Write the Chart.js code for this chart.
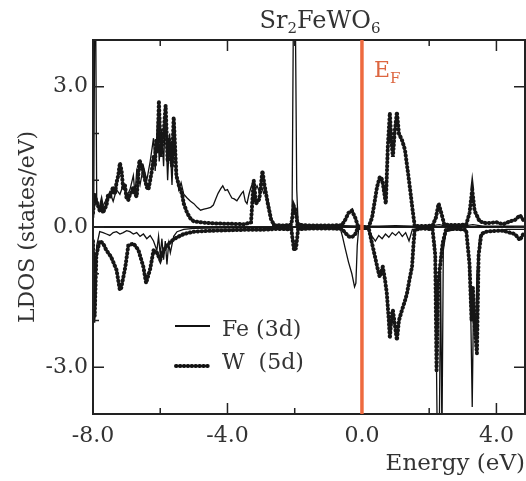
<!DOCTYPE html>
<html>
<head>
<meta charset="utf-8">
<script src="https://cdn.jsdelivr.net/npm/chart.js@4"></script>
<style>
  html, body { margin: 0; padding: 0; background: #fff; }
  canvas { display: block; }
</style>
</head>
<body>
<canvas id="dos" width="526" height="481"></canvas>
<script>
// Sr2FeWO6 partial DOS, spin up > 0, spin down < 0
const feUpE = [-7.98,-7.95,-7.92,-7.89,-7.8,-7.7,-7.6,-7.5,-7.4,-7.3,-7.2,-7.1,-7.0,-6.9,-6.8,-6.75,-6.7,-6.6,-6.5,-6.4,-6.3,-6.2,-6.15,-6.08,-6.03,-5.96,-5.9,-5.85,-5.78,-5.72,-5.65,-5.58,-5.52,-5.45,-5.38,-5.3,-5.2,-5.1,-5.0,-4.9,-4.8,-4.7,-4.6,-4.5,-4.42,-4.35,-4.28,-4.2,-4.14,-4.07,-4.0,-3.93,-3.87,-3.8,-3.72,-3.65,-3.58,-3.53,-3.47,-3.42,-3.36,-3.3,-3.24,-3.18,-3.12,-3.05,-2.98,-2.92,-2.86,-2.8,-2.72,-2.65,-2.5,-2.2,-2.08,-2.04,-1.98,-1.94,-1.9,-1.7,-1.0,-0.6,0.0,0.5,1.0,1.5,2.0,2.3,2.5,3.0,3.3,3.6,4.0,4.5,4.85];
const feUp  = [0.2,4.5,4.5,0.6,0.35,0.45,0.6,0.75,0.55,0.8,0.7,0.9,0.65,0.8,1.1,0.7,1.2,0.9,1.3,1.0,1.4,1.9,1.2,2.3,1.4,2.1,1.3,2.4,1.0,2.0,0.9,2.3,1.2,0.8,0.95,0.7,0.62,0.55,0.5,0.42,0.36,0.38,0.4,0.42,0.47,0.6,0.72,0.82,0.88,0.78,0.8,0.7,0.62,0.6,0.56,0.64,0.72,0.76,0.55,0.5,0.7,0.85,0.96,0.8,0.88,0.75,0.85,0.72,0.78,0.6,0.3,0.02,0.02,0.03,0.1,4.5,4.5,0.8,0.1,0.02,0.02,0.03,0.02,0.02,0.03,0.02,0.02,0.05,0.02,0.02,0.05,0.02,0.02,0.02,0.02];

const feDnE = [-7.98,-7.95,-7.92,-7.89,-7.8,-7.7,-7.6,-7.5,-7.4,-7.3,-7.2,-7.1,-7.0,-6.9,-6.8,-6.7,-6.6,-6.5,-6.4,-6.3,-6.2,-6.1,-6.05,-6.0,-5.95,-5.9,-5.85,-5.8,-5.75,-5.7,-5.6,-5.5,-5.3,-5.0,-4.0,-3.0,-2.1,-2.0,-1.95,-1.9,-1.0,-0.65,-0.58,-0.5,-0.4,-0.3,-0.22,-0.18,-0.14,-0.1,0.2,0.3,0.4,0.5,0.6,0.7,0.8,0.9,1.0,1.1,1.2,1.3,1.4,1.5,1.8,2.1,2.18,2.24,2.3,2.34,2.38,2.42,2.5,2.8,3.1,3.18,3.24,3.28,3.32,3.38,3.42,3.5,3.7,4.0,4.3,4.85];
const feDn  = [-0.3,-2.05,-1.6,-0.4,-0.1,-0.12,-0.15,-0.18,-0.12,-0.1,-0.15,-0.12,-0.08,-0.1,-0.15,-0.12,-0.2,-0.15,-0.25,-0.18,-0.3,-0.5,-0.2,-0.6,-0.25,-0.7,-0.3,-0.8,-0.35,-0.55,-0.2,-0.1,-0.05,-0.03,-0.02,-0.02,-0.05,-0.4,-0.3,-0.05,-0.02,-0.02,-0.2,-0.45,-0.75,-1.0,-1.28,-1.2,-0.4,-0.05,-0.05,-0.2,-0.3,-0.18,-0.25,-0.15,-0.22,-0.12,-0.18,-0.1,-0.2,-0.12,-0.3,-0.05,-0.03,-0.05,-0.4,-4.5,-4.5,-1.0,-4.5,-0.5,-0.1,-0.05,-0.08,-0.6,-2.0,-3.85,-1.5,-2.3,-1.0,-0.2,-0.1,-0.08,-0.05,-0.05];

const wUpE = [-8.0,-7.95,-7.9,-7.85,-7.8,-7.75,-7.7,-7.65,-7.6,-7.55,-7.5,-7.45,-7.4,-7.35,-7.3,-7.25,-7.2,-7.15,-7.1,-7.05,-7.0,-6.95,-6.9,-6.85,-6.8,-6.75,-6.7,-6.62,-6.55,-6.5,-6.45,-6.4,-6.35,-6.3,-6.25,-6.2,-6.16,-6.12,-6.08,-6.04,-5.98,-5.94,-5.9,-5.84,-5.78,-5.74,-5.7,-5.65,-5.6,-5.52,-5.45,-5.35,-5.3,-5.2,-5.1,-5.0,-4.8,-4.5,-4.0,-3.5,-3.3,-3.22,-3.15,-3.05,-2.96,-2.9,-2.8,-2.7,-2.6,-2.3,-2.1,-2.03,-1.97,-1.92,-1.5,-1.0,-0.6,-0.5,-0.4,-0.3,-0.2,-0.12,0.0,0.2,0.3,0.38,0.45,0.53,0.58,0.62,0.67,0.71,0.77,0.83,0.88,0.92,0.97,1.04,1.1,1.19,1.28,1.37,1.45,1.5,1.57,1.8,2.1,2.2,2.28,2.36,2.45,2.8,3.1,3.2,3.28,3.35,3.5,3.7,4.0,4.2,4.4,4.55,4.7,4.8,4.85];
const wUp  = [0.3,0.7,0.55,0.45,0.35,0.5,0.3,0.4,0.45,0.7,0.62,0.75,0.86,0.7,0.95,1.1,1.37,1.2,0.8,0.9,0.6,0.58,0.7,0.75,0.86,0.7,0.65,1.43,1.3,1.15,1.0,0.85,0.8,1.0,1.2,1.5,1.3,1.86,1.6,2.7,1.5,1.8,2.0,2.6,1.4,1.9,1.6,1.3,2.35,1.1,0.9,0.7,0.5,0.3,0.18,0.12,0.1,0.08,0.07,0.06,0.1,1.0,0.5,0.6,1.2,0.9,0.5,0.15,0.04,0.03,0.05,0.45,0.35,0.05,0.03,0.03,0.04,0.15,0.3,0.35,0.2,0.02,0.0,0.0,0.2,0.55,0.86,1.07,1.05,0.94,0.7,0.5,1.72,2.44,1.8,1.5,2.0,2.46,2.0,1.86,1.65,1.16,0.7,0.4,0.02,0.02,0.03,0.2,0.5,0.3,0.05,0.04,0.05,0.3,0.8,0.35,0.12,0.08,0.1,0.06,0.12,0.15,0.25,0.15,0.12];

const wDnE = [-8.0,-7.95,-7.9,-7.8,-7.7,-7.6,-7.46,-7.3,-7.2,-7.16,-7.04,-6.95,-6.8,-6.65,-6.5,-6.42,-6.3,-6.2,-6.1,-6.0,-5.9,-5.8,-5.67,-5.5,-5.3,-5.0,-4.5,-4.0,-3.5,-3.0,-2.5,-2.1,-2.02,-1.96,-1.9,-1.5,-1.0,-0.6,-0.5,-0.4,-0.3,-0.2,-0.12,0.0,0.2,0.3,0.39,0.47,0.53,0.58,0.62,0.68,0.74,0.8,0.83,0.88,0.92,0.98,1.04,1.1,1.19,1.27,1.34,1.42,1.49,1.53,1.57,1.8,2.1,2.18,2.22,2.27,2.33,2.4,2.5,2.8,3.1,3.2,3.26,3.3,3.36,3.42,3.47,3.55,3.7,4.0,4.2,4.4,4.55,4.7,4.8,4.85];
const wDn  = [-0.3,-1.9,-0.6,-0.3,-0.35,-0.5,-0.64,-0.92,-1.35,-1.3,-0.86,-0.4,-0.35,-0.49,-0.86,-1.2,-0.9,-0.5,-0.55,-0.7,-0.5,-0.4,-0.3,-0.22,-0.15,-0.1,-0.08,-0.07,-0.06,-0.06,-0.04,-0.05,-0.5,-0.45,-0.05,-0.03,-0.03,-0.04,-0.12,-0.2,-0.22,-0.15,-0.02,0.0,-0.02,-0.35,-0.64,-0.9,-1.07,-0.95,-0.85,-1.1,-1.42,-2.0,-2.38,-1.9,-1.78,-2.1,-2.42,-2.0,-1.78,-1.6,-1.42,-1.1,-0.85,-0.4,-0.06,-0.03,-0.05,-0.6,-3.1,-1.2,-0.8,-0.35,-0.05,-0.04,-0.06,-0.8,-2.0,-1.3,-2.2,-2.7,-0.6,-0.15,-0.1,-0.08,-0.08,-0.12,-0.15,-0.28,-0.15,-0.12];

const xTicks = [-8, -6, -4, -2, 0, 2, 4];
const xLabels = [-8, -4, 0, 4];
const yTicks = [-3, -2, -1, 0, 1, 2, 3];
const yLabels = [-3, 0, 3];
const fermiEnergy = 0;

const pts = (E, V) => E.map((x, i) => ({ x: x, y: V[i] }));
const serif = "'DejaVu Serif', 'Liberation Serif', serif";
const txt = '#333';

const feStyle = { borderColor: '#111', borderWidth: 1.3, pointRadius: 0, tension: 0 };
const wStyle = { borderColor: '#161616', borderWidth: 4, borderDash: [0.5, 3.4], borderCapStyle: 'round', pointRadius: 0, tension: 0 };

// frame, inward ticks, Fermi level, title, legend
const decor = {
  id: 'decor',
  afterDatasetsDraw(chart) {
    const { ctx, chartArea: a, scales: { x, y } } = chart;
    ctx.save();
    ctx.strokeStyle = '#222';
    ctx.lineWidth = 2;
    ctx.strokeRect(a.left, a.top, a.right - a.left, a.bottom - a.top);
    ctx.lineWidth = 1.5;
    xTicks.forEach(v => {
      const px = x.getPixelForValue(v);
      const len = xLabels.includes(v) ? 11 : 6;
      ctx.beginPath();
      ctx.moveTo(px, a.bottom); ctx.lineTo(px, a.bottom - len);
      ctx.moveTo(px, a.top); ctx.lineTo(px, a.top + len);
      ctx.stroke();
    });
    yTicks.forEach(v => {
      const py = y.getPixelForValue(v);
      const len = yLabels.includes(v) ? 11 : 6;
      ctx.beginPath();
      ctx.moveTo(a.left, py); ctx.lineTo(a.left + len, py);
      if (yLabels.includes(v)) { ctx.moveTo(a.right, py); ctx.lineTo(a.right - len, py); }
      ctx.stroke();
    });

    // Fermi level
    const fx = x.getPixelForValue(fermiEnergy);
    ctx.strokeStyle = '#EE6A3F';
    ctx.lineWidth = 3.5;
    ctx.beginPath();
    ctx.moveTo(fx, a.top); ctx.lineTo(fx, a.bottom);
    ctx.stroke();
    ctx.fillStyle = '#DD6640';
    ctx.textBaseline = 'alphabetic';
    ctx.textAlign = 'left';
    ctx.font = '22px ' + serif;
    ctx.fillText('E', fx + 12, 77);
    ctx.font = '15px ' + serif;
    ctx.fillText('F', fx + 28, 83);

    // title Sr2FeWO6
    const parts = [['Sr', 0], ['2', 1], ['FeWO', 0], ['6', 1]];
    const big = '24px ' + serif, small = '15px ' + serif;
    let w = 0;
    parts.forEach(p => { ctx.font = p[1] ? small : big; w += ctx.measureText(p[0]).width; });
    let tx = 320 - w / 2;
    ctx.fillStyle = txt;
    parts.forEach(p => {
      ctx.font = p[1] ? small : big;
      ctx.fillText(p[0], tx, p[1] ? 33 : 28);
      tx += ctx.measureText(p[0]).width;
    });

    // legend
    ctx.strokeStyle = '#111';
    ctx.lineWidth = 2;
    ctx.setLineDash([]);
    ctx.beginPath(); ctx.moveTo(175, 326); ctx.lineTo(210, 326); ctx.stroke();
    ctx.lineWidth = wStyle.borderWidth;
    ctx.lineCap = 'round';
    ctx.setLineDash(wStyle.borderDash);
    ctx.beginPath(); ctx.moveTo(176, 366); ctx.lineTo(210, 366); ctx.stroke();
    ctx.setLineDash([]);
    ctx.font = '22px ' + serif;
    ctx.fillStyle = txt;
    ctx.textBaseline = 'middle';
    ctx.fillText('Fe (3d)', 222, 330);
    ctx.fillText('W  (5d)', 222, 363);
    ctx.restore();
  }
};

new Chart(document.getElementById('dos'), {
  type: 'line',
  data: {
    datasets: [
      Object.assign({ label: 'W (5d) up', data: pts(wUpE, wUp) }, wStyle),
      Object.assign({ label: 'W (5d) down', data: pts(wDnE, wDn) }, wStyle),
      Object.assign({ label: 'Fe (3d) up', data: pts(feUpE, feUp) }, feStyle),
      Object.assign({ label: 'Fe (3d) down', data: pts(feDnE, feDn) }, feStyle)
    ]
  },
  options: {
    responsive: false,
    animation: false,
    layout: { padding: { top: 40, right: 1, left: 0, bottom: 0 } },
    plugins: { legend: { display: false }, title: { display: false }, tooltip: { enabled: false } },
    scales: {
      x: {
        type: 'linear',
        min: -8,
        max: 4.85,
        border: { display: false },
        grid: { display: false, drawTicks: false },
        ticks: {
          stepSize: 2,
          includeBounds: false,
          autoSkip: false,
          maxRotation: 0,
          padding: 9,
          color: txt,
          font: { family: serif, size: 22 },
          callback: v => xLabels.includes(v) ? v.toFixed(1) : ''
        },
        title: {
          display: true,
          text: 'Energy (eV)',
          align: 'end',
          color: txt,
          font: { family: serif, size: 23 },
          padding: { top: 0, bottom: 3 }
        },
        afterFit: s => { s.height = 67; }
      },
      y: {
        min: -4,
        max: 4,
        border: { display: false },
        grid: {
          drawTicks: false,
          color: c => c.tick && c.tick.value === 0 ? '#1a1a1a' : 'rgba(0,0,0,0)',
          lineWidth: c => c.tick && c.tick.value === 0 ? 2 : 0
        },
        ticks: {
          stepSize: 1,
          autoSkip: false,
          padding: 5,
          color: txt,
          font: { family: serif, size: 22 },
          callback: v => yLabels.includes(v) ? v.toFixed(1) : ''
        },
        title: {
          display: true,
          text: 'LDOS (states/eV)',
          color: txt,
          font: { family: serif, size: 22 },
          padding: { top: 15, bottom: 0 }
        },
        afterFit: s => { s.width = 93; }
      }
    }
  },
  plugins: [decor]
});
</script>
</body>
</html>
